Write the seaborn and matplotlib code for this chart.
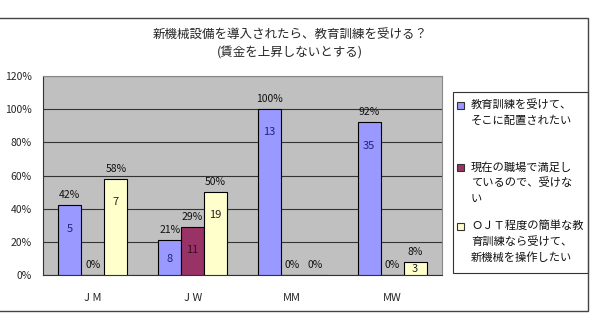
import matplotlib
matplotlib.use('Agg')
import matplotlib.pyplot as plt
from matplotlib.patches import Rectangle
import pandas as pd
import seaborn as sns

# データ
grupos = ['J M', 'J W', 'MM', 'MW']
respostas = ['教育訓練を受けて、\nそこに配置されたい',
             '現在の職場で満足し\nているので、受けな\nい',
             'ＯＪＴ程度の簡単な教\n育訓練なら受けて、\n新機械を操作したい']
pct_recebe = [42, 21, 100, 92]
pct_satisfeito = [0, 29, 0, 0]
pct_ojt = [58, 50, 0, 8]
n_recebe = [5, 8, 13, 35]
n_satisfeito = [0, 11, 0, 0]
n_ojt = [7, 19, 0, 3]
cores = ['#9999FF', '#993366', '#FFFFCC']
cores_texto = ['#22227a', '#3a0a22', '#222222']

titulo = '新機械設備を導入されたら、教育訓練を受ける？\n(賃金を上昇しないとする)'

df = pd.DataFrame({
    'grupo': grupos * 3,
    'resposta': [respostas[0]] * 4 + [respostas[1]] * 4 + [respostas[2]] * 4,
    'pct': pct_recebe + pct_satisfeito + pct_ojt,
    'n': n_recebe + n_satisfeito + n_ojt,
})

sns.set_style('white')
plt.rcParams['font.family'] = ['Noto Sans CJK JP', 'DejaVu Sans']

W, H = 594, 314
fig = plt.figure(figsize=(W / 100, H / 100), dpi=100)
ax = fig.add_axes([43 / W, 1 - 275 / H, 399 / W, 199 / H])
ax.set_facecolor('#C0C0C0')

sns.barplot(data=df, x='grupo', y='pct', hue='resposta', order=grupos,
            hue_order=respostas, palette=cores, saturation=1, width=0.69,
            edgecolor='black', linewidth=0.8, ax=ax, zorder=3)
ax.get_legend().remove()

ax.set_ylim(0, 120)
ax.set_xlim(-0.5, 3.5)
ax.set_yticks(range(0, 121, 20))
ax.set_yticklabels([f'{v}%' for v in range(0, 121, 20)], fontsize=7.5)
ax.tick_params(axis='y', length=0, pad=8)
ax.tick_params(axis='x', length=0, pad=13, labelsize=8)
ax.set_xticks([0.5, 1.5, 2.5], minor=True)
ax.tick_params(axis='x', which='minor', direction='in', length=3, color='#333333')
ax.set_xlabel('')
ax.set_ylabel('')
ax.yaxis.grid(True, color='#333333', linewidth=0.8, zorder=1)
ax.set_axisbelow(True)
for lado in ['left', 'bottom']:
    ax.spines[lado].set_color('#333333')
for lado in ['top', 'right']:
    ax.spines[lado].set_color('#888888')

# rótulos
for i, cont in enumerate(ax.containers):
    for barra in cont:
        x = barra.get_x() + barra.get_width() / 2
        h = barra.get_height()
        ax.text(x, h + 3, f'{int(round(h))}%', ha='center', va='bottom',
                fontsize=7.5, color='#111111', zorder=5)
    contagens = [n_recebe, n_satisfeito, n_ojt][i]
    for j, barra in enumerate(cont):
        h = barra.get_height()
        if contagens[j] == 0:
            continue
        x = barra.get_x() + barra.get_width() / 2
        y = max(h - 14, h * 0.45)
        ax.text(x, y, str(contagens[j]), ha='center', va='center',
                fontsize=8, color=cores_texto[i], zorder=5)

fig.text(0.488, 1 - 44 / H, titulo, ha='center', va='center', fontsize=9,
         linespacing=1.45)

# legenda feita à mão (quadrado alinhado com a primeira linha)
fig.patches.append(Rectangle((453 / W, 1 - 273 / H), 135 / W, 181 / H,
                             transform=fig.transFigure, facecolor='white',
                             edgecolor='#333333', linewidth=0.8))
topo_entradas = [105, 167, 226]
for k, rotulo in enumerate(respostas):
    y0 = topo_entradas[k]
    fig.patches.append(Rectangle((457 / W, 1 - (y0 + 3.5) / H), 7 / W, 7 / H,
                                 transform=fig.transFigure, facecolor=cores[k],
                                 edgecolor='#333333', linewidth=0.8))
    for m, linha in enumerate(rotulo.split('\n')):
        fig.text(471 / W, 1 - (y0 + m * 16) / H, linha, ha='left',
                 va='center', fontsize=8.1, color='#111111')

fig.patches.append(Rectangle((-0.01, 3 / H), 0.01 + 588 / W, 293 / H,
                             transform=fig.transFigure, fill=False,
                             edgecolor='#444444', linewidth=1))

fig.savefig('out.png', dpi=100)
